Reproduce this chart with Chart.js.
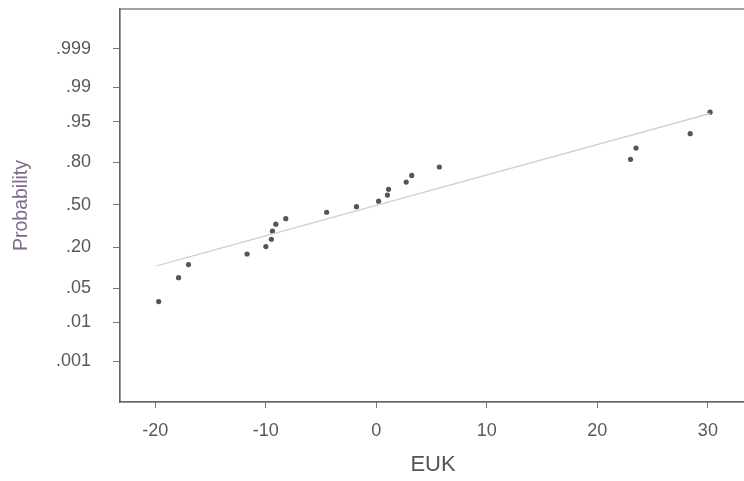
<!DOCTYPE html>
<html>
<head>
<meta charset="utf-8">
<script src="https://cdn.jsdelivr.net/npm/chart.js@4"></script>
<style>
  html, body { margin: 0; padding: 0; background: #fff; overflow: hidden; }
  #wrap { width: 754px; height: 481px; position: relative; }
</style>
</head>
<body>
<div id="wrap"><canvas id="chart"></canvas></div>
<script>
// EUK values and their plotted probabilities
const eukValues = [-19.7, -17.9, -17.0, -11.7, -10.0, -9.5, -9.4, -9.1, -8.2, -4.5, -1.8,
                   0.2, 1.0, 1.1, 2.7, 3.2, 5.7, 23.0, 23.5, 28.4, 30.2];
const probValues = [0.028, 0.075, 0.119, 0.166, 0.205, 0.249, 0.302, 0.352, 0.393, 0.443, 0.487,
                    0.530, 0.578, 0.622, 0.675, 0.721, 0.774, 0.817, 0.870, 0.921, 0.967];

// reference line ends
const fitX = [-19.9, 30.2];
const fitProb = [0.114, 0.965];

const xTicks = [-20, -10, 0, 10, 20, 30];
const probTicks = [0.001, 0.01, 0.05, 0.2, 0.5, 0.8, 0.95, 0.99, 0.999];
const probLabels = ['.001', '.01', '.05', '.20', '.50', '.80', '.95', '.99', '.999'];

// inverse normal cdf (Acklam) - maps probability to the probit axis
function probit(p) {
  const a = [-39.69683028665376, 220.9460984245205, -275.9285104469687, 138.3577518672690, -30.66479806614716, 2.506628277459239];
  const b = [-54.47609879822406, 161.5858368580409, -155.6989798598866, 66.80131188771972, -13.28068155288572];
  const c = [-0.007784894002430293, -0.3223964580411365, -2.400758277161838, -2.549732539343734, 4.374664141464968, 2.938163982698783];
  const d = [0.007784695709041462, 0.3224671290700398, 2.445134137142996, 3.754408661907416];
  const pl = 0.02425;
  let q, r;
  if (p < pl) {
    q = Math.sqrt(-2 * Math.log(p));
    return (((((c[0]*q+c[1])*q+c[2])*q+c[3])*q+c[4])*q+c[5]) / ((((d[0]*q+d[1])*q+d[2])*q+d[3])*q+1);
  }
  if (p > 1 - pl) {
    q = Math.sqrt(-2 * Math.log(1 - p));
    return -(((((c[0]*q+c[1])*q+c[2])*q+c[3])*q+c[4])*q+c[5]) / ((((d[0]*q+d[1])*q+d[2])*q+d[3])*q+1);
  }
  q = p - 0.5; r = q * q;
  return (((((a[0]*r+a[1])*r+a[2])*r+a[3])*r+a[4])*r+a[5])*q / (((((b[0]*r+b[1])*r+b[2])*r+b[3])*r+b[4])*r+1);
}

const font = '"Liberation Sans", Arial, sans-serif';
const labelMap = {};
probTicks.forEach((p, i) => { labelMap[probit(p).toFixed(4)] = probLabels[i]; });

const frame = {
  id: 'frame',
  afterDraw(chart) {
    const { ctx, chartArea: a } = chart;
    ctx.save();
    ctx.strokeStyle = '#666';
    ctx.lineWidth = 1.2;
    ctx.strokeRect(a.left, a.top, a.right - a.left, a.bottom - a.top);
    ctx.restore();
  }
};

new Chart(document.getElementById('chart'), {
  type: 'scatter',
  data: {
    datasets: [
      {
        type: 'line',
        data: fitX.map((x, i) => ({ x: x, y: probit(fitProb[i]) })),
        borderColor: '#d2d2d2',
        borderWidth: 1.5,
        pointRadius: 0,
        fill: false
      },
      {
        data: eukValues.map((x, i) => ({ x: x, y: probit(probValues[i]) })),
        backgroundColor: '#555',
        borderColor: '#555',
        pointRadius: 2.6,
        borderWidth: 0
      }
    ]
  },
  options: {
    responsive: true,
    maintainAspectRatio: false,
    animation: false,
    layout: { padding: { top: 9, right: 8, bottom: 0, left: 0 } },
    plugins: { legend: { display: false }, tooltip: { enabled: false } },
    scales: {
      x: {
        type: 'linear',
        min: -23.2,
        max: 33.45,
        afterBuildTicks: s => { s.ticks = xTicks.map(v => ({ value: v })); },
        afterFit: s => { s.height = 79; s.paddingLeft = 0; s.paddingRight = 0; },
        grid: { drawOnChartArea: false, drawTicks: true, tickLength: 6, color: '#777' },
        border: { display: true, color: '#666', width: 1.2 },
        ticks: { color: '#5a5660', font: { family: font, size: 18 }, padding: 12, maxRotation: 0 },
        title: { display: true, text: 'EUK', color: '#555', font: { family: font, size: 22 }, padding: { top: 0, bottom: 3 } }
      },
      y: {
        type: 'linear',
        min: -3.9,
        max: 3.88,
        afterBuildTicks: s => { s.ticks = probTicks.map(p => ({ value: probit(p) })); },
        afterFit: s => { s.width = 120; s.paddingTop = 0; s.paddingBottom = 0; },
        grid: { drawOnChartArea: false, drawTicks: true, tickLength: 7, color: '#777' },
        border: { display: true, color: '#666', width: 1.2 },
        ticks: {
          color: '#5a5660',
          font: { family: font, size: 18 },
          padding: 22,
          callback: v => labelMap[Number(v).toFixed(4)] || ''
        },
        title: { display: true, text: 'Probability', color: '#806a8c', font: { family: font, size: 19.5 }, padding: { top: 10, bottom: 0 } }
      }
    }
  },
  plugins: [frame]
});
</script>
</body>
</html>
